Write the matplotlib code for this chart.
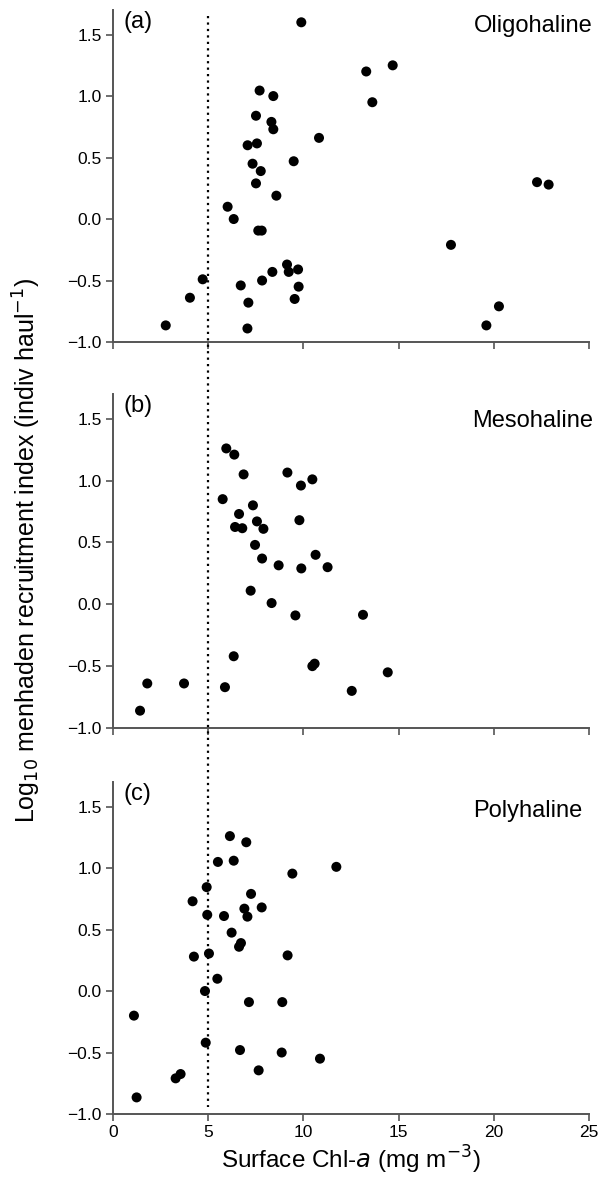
import matplotlib
matplotlib.use("Agg")
import matplotlib.pyplot as plt
import matplotlib.transforms as mtransforms
from matplotlib.lines import Line2D


# Oligohaline (a)
oligo_chl = [9.89, 13.30, 14.69, 7.70, 8.42, 13.62, 7.51, 8.32, 8.42, 10.82,
             7.07, 7.56, 7.33, 9.49, 7.76, 7.51, 8.58, 6.02, 6.34, 7.63,
             7.81, 22.27, 22.88, 17.75, 9.14, 9.23, 9.72, 8.37, 4.71, 6.71,
             9.75, 7.83, 4.04, 7.11, 9.54, 20.27, 2.77, 7.06, 19.61]
oligo_rec = [1.60, 1.20, 1.25, 1.045, 1.00, 0.95, 0.84, 0.79, 0.73, 0.66,
             0.60, 0.615, 0.45, 0.47, 0.39, 0.29, 0.19, 0.10, 0.00, -0.094,
             -0.094, 0.30, 0.28, -0.21, -0.37, -0.43, -0.41, -0.43, -0.49, -0.54,
             -0.55, -0.50, -0.64, -0.68, -0.65, -0.71, -0.865, -0.89, -0.865]

# Mesohaline (b)
meso_chl = [5.95, 6.37, 6.86, 9.16, 9.87, 10.47, 5.76, 7.35, 6.62, 7.56,
            9.79, 6.41, 6.79, 7.90, 7.46, 10.64, 7.83, 8.70, 9.89, 11.27,
            7.23, 8.33, 9.58, 13.13, 6.34, 10.47, 10.59, 14.43, 1.80, 3.73,
            5.88, 12.54, 1.42]
meso_rec = [1.26, 1.21, 1.05, 1.065, 0.96, 1.01, 0.85, 0.80, 0.73, 0.67,
            0.68, 0.625, 0.615, 0.61, 0.48, 0.40, 0.37, 0.315, 0.29, 0.30,
            0.11, 0.01, -0.09, -0.085, -0.42, -0.50, -0.48, -0.55, -0.64, -0.64,
            -0.67, -0.70, -0.86]

# Polyhaline (c)
poly_chl = [6.14, 7.00, 5.51, 6.34, 11.73, 9.42, 4.92, 7.25, 4.18, 6.90,
            7.81, 4.95, 5.83, 7.06, 6.23, 6.72, 6.62, 4.25, 5.04, 9.17,
            5.48, 4.83, 7.14, 8.89, 1.10, 4.87, 6.67, 8.86, 10.87, 7.65,
            3.29, 3.55, 1.24]
poly_rec = [1.26, 1.21, 1.05, 1.06, 1.01, 0.955, 0.845, 0.79, 0.73, 0.67,
            0.68, 0.62, 0.61, 0.605, 0.475, 0.39, 0.36, 0.28, 0.305, 0.29,
            0.10, 0.00, -0.09, -0.09, -0.20, -0.42, -0.48, -0.50, -0.55, -0.645,
            -0.71, -0.675, -0.865]

panel_tags = ["(a)", "(b)", "(c)"]
panel_names = ["Oligohaline", "Mesohaline", "Polyhaline"]
x_ticks = [0, 5, 10, 15, 20, 25]
y_ticks = [-1.0, -0.5, 0.0, 0.5, 1.0, 1.5]
chl_threshold = 5


plt.rcParams["font.family"] = ["Liberation Sans", "DejaVu Sans"]
plt.rcParams["axes.unicode_minus"] = True

fig = plt.figure(figsize=(6.09, 11.84), dpi=100)

left, width = 113 / 609, 476 / 609
boxes = [(10, 342), (394, 728), (782, 1114)]
name_pos = [(1.007, 0.985), (1.008, 0.953), (0.987, 0.945)]
spine_col = "#555555"

data = [(oligo_chl, oligo_rec), (meso_chl, meso_rec), (poly_chl, poly_rec)]
axes = []
for i, (top, bottom) in enumerate(boxes):
    ax = fig.add_axes([left, 1 - bottom / 1184, width, (bottom - top) / 1184])
    chl, rec = data[i]
    ax.scatter(chl, rec, s=52, color="black", edgecolors="none", zorder=3)
    ax.set_xlim(0, 25)
    ax.set_ylim(-1.0, 1.7)
    ax.set_xticks(x_ticks)
    ax.set_yticks(y_ticks)
    ax.set_yticklabels([f"{v:.1f}".replace("-", "\u2212") for v in y_ticks])
    if i < 2:
        ax.set_xticklabels([])
    for side in ["top", "right"]:
        ax.spines[side].set_visible(False)
    for side in ["left", "bottom"]:
        ax.spines[side].set_color(spine_col)
        ax.spines[side].set_linewidth(1.4)
    ax.tick_params(direction="out", length=5, width=1.2, color=spine_col,
                   labelsize=12.5, pad=3)
    ax.text(0.022, 0.998, panel_tags[i], transform=ax.transAxes,
            fontsize=17, ha="left", va="top")
    nx, ny = name_pos[i]
    ax.text(nx, ny, panel_names[i], transform=ax.transAxes,
            fontsize=17, ha="right", va="top")
    axes.append(ax)

axes[2].set_xlabel("Surface Chl-$\\mathit{a}$ (mg m$^{-3}$)", fontsize=17.5, labelpad=3)
fig.text(0.044, 0.535, "Log$_{10}$ menhaden recruitment index (indiv haul$^{-1}$)",
         rotation=90, fontsize=18, ha="center", va="center")

# Dotted threshold line running through all three panels
trans = mtransforms.blended_transform_factory(axes[2].transData, fig.transFigure)
fig.add_artist(Line2D([chl_threshold, chl_threshold], [1 - 16 / 1184, 1 - 1107 / 1184],
                      transform=trans, color="black", lw=1.6,
                      linestyle=(0, (1, 1.9))))

fig.savefig("out.png", dpi=100)
